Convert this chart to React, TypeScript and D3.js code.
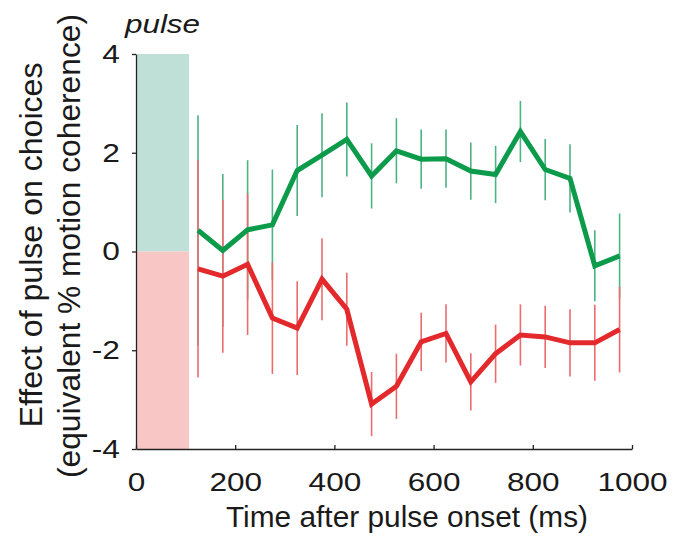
import React, { useEffect, useRef } from 'react';
import * as d3 from 'd3';

// time bins (ms after pulse onset)
const times = [125, 175, 225, 275, 325, 375, 425, 475, 525, 575, 625, 675, 725, 775, 825, 875, 925, 975];
const greenVals = [0.43, 0.02, 0.44, 0.54, 1.64, 1.95, 2.27, 1.53, 2.04, 1.87, 1.88, 1.63, 1.56, 2.43, 1.66, 1.48, -0.29, -0.09];
const greenErr = [2.33, 1.55, 1.41, 1.12, 0.92, 0.85, 0.75, 0.66, 0.66, 0.6, 0.59, 0.58, 0.58, 0.62, 0.62, 0.69, 0.72, 0.86];
const redVals = [-0.35, -0.5, -0.26, -1.35, -1.55, -0.56, -1.17, -3.09, -2.73, -1.83, -1.66, -2.64, -2.07, -1.69, -1.73, -1.85, -1.85, -1.58];
const redErr = [2.2, 1.55, 1.43, 1.13, 0.95, 0.83, 0.74, 0.65, 0.66, 0.59, 0.59, 0.58, 0.59, 0.62, 0.63, 0.68, 0.77, 0.87];
const pulseWindow = [0, 107];
const xTicks = [0, 200, 400, 600, 800, 1000];
const yTicks = [-4, -2, 0, 2, 4];

const width = 684;
const height = 536;
const margin = { top: 54, right: 52, bottom: 87, left: 136 };
const font = '"Liberation Sans", Arial, Helvetica, sans-serif';
const ink = '#1a1a1a';

// the tick digits in the original are wider than Liberation Sans, so widen them
const stretch = (sel: any, factor: number) => {
  sel.each(function (this: SVGTextElement) {
    const len = this.getComputedTextLength();
    d3.select(this).attr('textLength', len * factor).attr('lengthAdjust', 'spacingAndGlyphs');
  });
};

const App = () => {
  const ref = useRef<SVGSVGElement>(null);

  useEffect(() => {
    const svg = d3.select(ref.current);
    svg.selectAll('*').remove();

    const x = d3.scaleLinear().domain([0, 1000]).range([margin.left, width - margin.right]);
    const y = d3.scaleLinear().domain([-4, 4]).range([height - margin.bottom, margin.top]);

    // pulse shading
    svg
      .append('rect')
      .attr('x', x(pulseWindow[0]) + 1)
      .attr('y', y(4))
      .attr('width', x(pulseWindow[1]) - x(pulseWindow[0]) - 1)
      .attr('height', y(0) - y(4))
      .attr('fill', '#bfe0d7');
    svg
      .append('rect')
      .attr('x', x(pulseWindow[0]) + 1)
      .attr('y', y(0))
      .attr('width', x(pulseWindow[1]) - x(pulseWindow[0]) - 1)
      .attr('height', y(-4) - y(0))
      .attr('fill', '#f8c7c5');

    const series = [
      { vals: greenVals, err: greenErr, line: '#0c9a4b', bar: '#4cb383' },
      { vals: redVals, err: redErr, line: '#e3292c', bar: '#ec6b6f' },
    ];

    // error bars
    series.forEach((s) => {
      svg
        .append('g')
        .selectAll('line')
        .data(times)
        .enter()
        .append('line')
        .attr('x1', (d) => x(d))
        .attr('x2', (d) => x(d))
        .attr('y1', (d, i) => y(s.vals[i] + s.err[i]))
        .attr('y2', (d, i) => y(s.vals[i] - s.err[i]))
        .attr('stroke', s.bar)
        .attr('stroke-width', 1.6);
    });

    // mean lines
    series.forEach((s) => {
      const path = d3
        .line<number>()
        .x((d) => x(d))
        .y((d, i) => y(s.vals[i]));
      svg
        .append('path')
        .attr('d', path(times))
        .attr('fill', 'none')
        .attr('stroke', s.line)
        .attr('stroke-width', 5)
        .attr('stroke-linejoin', 'miter');
    });

    // axes
    const xAxis = svg
      .append('g')
      .attr('transform', `translate(0, ${y(-4)})`)
      .call(
        d3
          .axisBottom(x)
          .tickValues(xTicks)
          .tickFormat((d) => String(d))
          .tickSizeInner(-4)
          .tickSizeOuter(0)
          .tickPadding(0)
      );
    xAxis.select('.domain').attr('stroke', '#222').attr('stroke-width', 1.3);
    xAxis.selectAll('.tick line').attr('stroke', '#222').attr('stroke-width', 1.3);
    const xLabels = xAxis
      .selectAll('.tick text')
      .attr('font-family', font)
      .attr('font-size', 26.5)
      .attr('fill', ink)
      .attr('y', 42)
      .attr('dy', null);
    stretch(xLabels, 1.19);

    const yAxis = svg
      .append('g')
      .attr('transform', `translate(${x(0)}, 0)`)
      .call(
        d3
          .axisLeft(y)
          .tickValues(yTicks)
          .tickFormat((d) => String(d))
          .tickSizeInner(4)
          .tickSizeOuter(0)
          .tickPadding(12)
      );
    yAxis.select('.domain').attr('stroke', '#222').attr('stroke-width', 1.3);
    yAxis.selectAll('.tick line').attr('stroke', '#222').attr('stroke-width', 1.3);
    const yLabels = yAxis
      .selectAll('.tick text')
      .attr('font-family', font)
      .attr('font-size', 26)
      .attr('fill', ink);
    stretch(yLabels, 1.22);

    // labels
    svg
      .append('text')
      .attr('x', 407)
      .attr('y', 527)
      .attr('text-anchor', 'middle')
      .attr('font-family', font)
      .attr('font-size', 30)
      .attr('fill', ink)
      .attr('textLength', 362)
      .attr('lengthAdjust', 'spacingAndGlyphs')
      .text('Time after pulse onset (ms)');

    svg
      .append('text')
      .attr('transform', 'translate(42, 245) rotate(-90)')
      .attr('text-anchor', 'middle')
      .attr('font-family', font)
      .attr('font-size', 31)
      .attr('fill', ink)
      .attr('textLength', 365)
      .attr('lengthAdjust', 'spacingAndGlyphs')
      .text('Effect of pulse on choices');
    svg
      .append('text')
      .attr('transform', 'translate(80, 246) rotate(-90)')
      .attr('text-anchor', 'middle')
      .attr('font-family', font)
      .attr('font-size', 31)
      .attr('fill', ink)
      .attr('textLength', 464)
      .attr('lengthAdjust', 'spacingAndGlyphs')
      .text('(equivalent % motion coherence)');

    svg
      .append('text')
      .attr('x', 125)
      .attr('y', 33)
      .attr('font-family', font)
      .attr('font-style', 'italic')
      .attr('font-size', 26)
      .attr('fill', ink)
      .attr('textLength', 75)
      .attr('lengthAdjust', 'spacingAndGlyphs')
      .text('pulse');
  }, []);

  return (
    <svg
      ref={ref}
      width={width}
      height={height}
      style={{ position: 'absolute', left: 0, top: 0, background: '#fff' }}
    />
  );
};

export default App;
